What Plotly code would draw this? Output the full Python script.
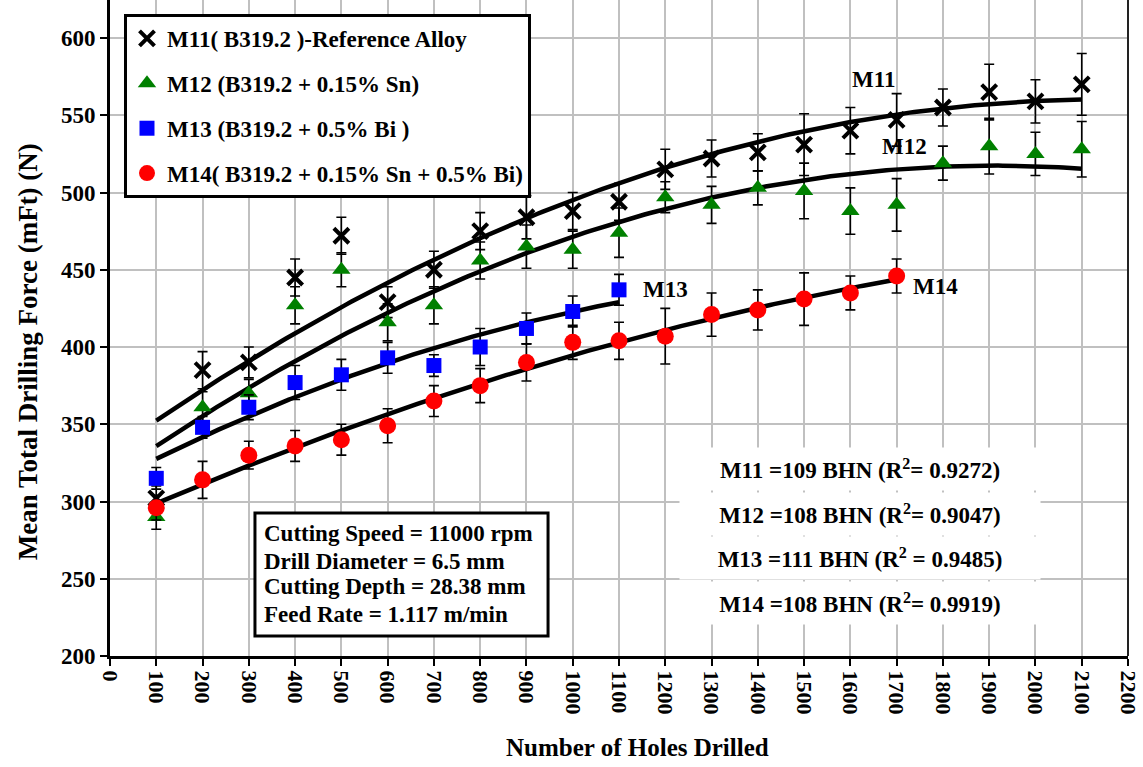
import numpy as np
import plotly.graph_objects as go

# ---- data -------------------------------------------------------------
holes_all = [100, 200, 300, 400, 500, 600, 700, 800, 900, 1000, 1100,
             1200, 1300, 1400, 1500, 1600, 1700, 1800, 1900, 2000, 2100]
holes_m13 = holes_all[:11]
holes_m14 = holes_all[:17]

m11_force = [302, 385, 390, 445, 472, 429, 450, 475, 484, 488, 494,
             515, 522, 526, 531, 540, 547, 555, 565, 559, 570]
m11_err = [8, 12, 10, 12, 12, 10, 12, 12, 14, 12, 12,
           13, 12, 12, 20, 15, 17, 12, 18, 14, 20]

m12_force = [290, 361, 370, 427, 450, 416, 427, 456, 465, 463, 474,
             497, 492, 503, 501, 488, 492, 519, 530, 525, 528]
m12_err = [8, 10, 9, 12, 11, 12, 12, 12, 14, 12, 16,
           10, 12, 11, 18, 15, 17, 11, 18, 14, 18]

m13_force = [315, 348, 361, 377, 382, 393, 388, 400, 412, 423, 437]
m13_err = [7, 7, 8, 11, 10, 10, 7, 12, 10, 10, 10]

m14_force = [296, 314, 330, 336, 340, 349, 365, 375, 390, 403, 404,
             407, 421, 424, 431, 435, 446]
m14_err = [8, 12, 9, 10, 10, 11, 10, 11, 12, 11, 12,
           18, 14, 13, 17, 11, 11]

legend_names = [
    "M11( B319.2 )-Reference Alloy",
    "M12 (B319.2 + 0.15% Sn)",
    "M13 (B319.2 + 0.5% Bi )",
    "M14( B319.2 + 0.15% Sn + 0.5% Bi)",
]
hardness_lines = [
    "M11 =109 BHN (R<sup>2</sup>= 0.9272)",
    "M12 =108 BHN (R<sup>2</sup>= 0.9047)",
    "M13 =111 BHN (R<sup>2</sup> = 0.9485)",
    "M14 =108 BHN (R<sup>2</sup>= 0.9919)",
]
conditions = [
    "Cutting Speed = 11000 rpm",
    "Drill Diameter = 6.5 mm",
    "Cutting Depth = 28.38 mm",
    "Feed Rate = 1.117 m/min",
]

# ---- styling ----------------------------------------------------------
FONT = "Liberation Serif, Times New Roman, serif"
TXT = 23

series = [
    (holes_all, m11_force, m11_err, dict(symbol="x-thin", size=15, color="black",
                                         line=dict(width=4, color="black"))),
    (holes_all, m12_force, m12_err, dict(symbol="triangle-up", size=16, color="#008000")),
    (holes_m13, m13_force, m13_err, dict(symbol="square", size=15, color="#0000ff")),
    (holes_m14, m14_force, m14_err, dict(symbol="circle", size=17, color="#ff0000")),
]

fig = go.Figure()

# second-order polynomial trend lines
for xs, ys, _, _ in series:
    coef = np.polyfit(xs, ys, 2)
    xfit = np.linspace(xs[0], xs[-1], 200)
    fig.add_trace(go.Scatter(x=xfit, y=np.polyval(coef, xfit), mode="lines",
                             line=dict(color="black", width=4.5),
                             showlegend=False, hoverinfo="skip"))

for i, (xs, ys, err, marker) in enumerate(series):
    fig.add_trace(go.Scatter(
        x=xs, y=ys, mode="markers", name=legend_names[i],
        legendgroup=f"g{i}", marker=marker,
        error_y=dict(type="data", array=err, visible=True,
                     color="black", thickness=1.6, width=5),
    ))

# curve labels
for label, lx, ly in [("M11", 1649, 573), ("M12", 1718, 530),
                      ("M13", 1200, 437), ("M14", 1783, 439)]:
    fig.add_annotation(x=lx, y=ly, text=label, showarrow=False,
                       xanchor="center", yanchor="middle",
                       font=dict(family=FONT, size=TXT, color="black", weight="bold"))

# hardness / fit quality block
for txt, py in zip(hardness_lines, [0.2851, 0.2165, 0.1494, 0.0808]):
    fig.add_annotation(x=0.7367, y=py, xref="paper", yref="paper", text=txt,
                       showarrow=False, bgcolor="white", width=360, height=42,
                       borderpad=0, xanchor="center", yanchor="middle",
                       font=dict(family=FONT, size=TXT, color="black", weight="bold"))

# cutting-conditions box
fig.add_shape(type="rect", xref="paper", yref="paper",
              x0=0.1424, x1=0.4303, y0=0.0305, y1=0.218,
              line=dict(color="black", width=3), fillcolor="white", layer="above")
for txt, py in zip(conditions, [0.1875, 0.1448, 0.1052, 0.064]):
    fig.add_annotation(x=0.1493, y=py, xref="paper", yref="paper", text=txt,
                       showarrow=False, xanchor="left", yanchor="middle",
                       font=dict(family=FONT, size=TXT, color="black", weight="bold"))

# right frame edge
fig.add_shape(type="line", xref="paper", yref="paper", x0=1, x1=1, y0=0, y1=1,
              line=dict(color="#222222", width=2), layer="above")

# axis titles
fig.add_annotation(x=-0.0805, y=0.463, xref="paper", yref="paper",
                   text="Mean Total Drilling Force (mFt) (N)", textangle=-90,
                   showarrow=False, xanchor="center", yanchor="middle",
                   font=dict(family=FONT, size=27, color="black", weight="bold"))
fig.add_annotation(x=0.518, y=-0.140, xref="paper", yref="paper",
                   text="Number of Holes Drilled", showarrow=False,
                   xanchor="center", yanchor="middle",
                   font=dict(family=FONT, size=25, color="black", weight="bold"))

fig.update_xaxes(range=[0, 2200], tickmode="array",
                 tickvals=list(range(0, 2201, 100)),
                 tickangle=90, ticks="outside", ticklen=7, tickwidth=2,
                 tickcolor="black", showgrid=True, gridcolor="#c0c0c0",
                 gridwidth=2, zeroline=False, showline=True, linecolor="black",
                 linewidth=3,
                 tickfont=dict(family=FONT, size=22, color="black", weight="bold"))
fig.update_yaxes(range=[200, 624.6], tickmode="array",
                 tickvals=list(range(200, 601, 50)),
                 ticks="outside", ticklen=7, tickwidth=2, tickcolor="black",
                 showgrid=True, gridcolor="#c0c0c0", gridwidth=2,
                 zeroline=False, showline=True, linecolor="black", linewidth=3,
                 tickfont=dict(family=FONT, size=23, color="black", weight="bold"))

fig.update_layout(
    width=1143, height=767,
    margin=dict(l=110, r=15, t=0, b=111),
    paper_bgcolor="white", plot_bgcolor="white",
    legend=dict(x=0.01375, y=0.9787, xanchor="left", yanchor="top",
                bgcolor="white", bordercolor="black", borderwidth=3,
                tracegroupgap=12,
                font=dict(family=FONT, size=TXT, color="black", weight="bold")),
)

fig.write_html("out.html")
